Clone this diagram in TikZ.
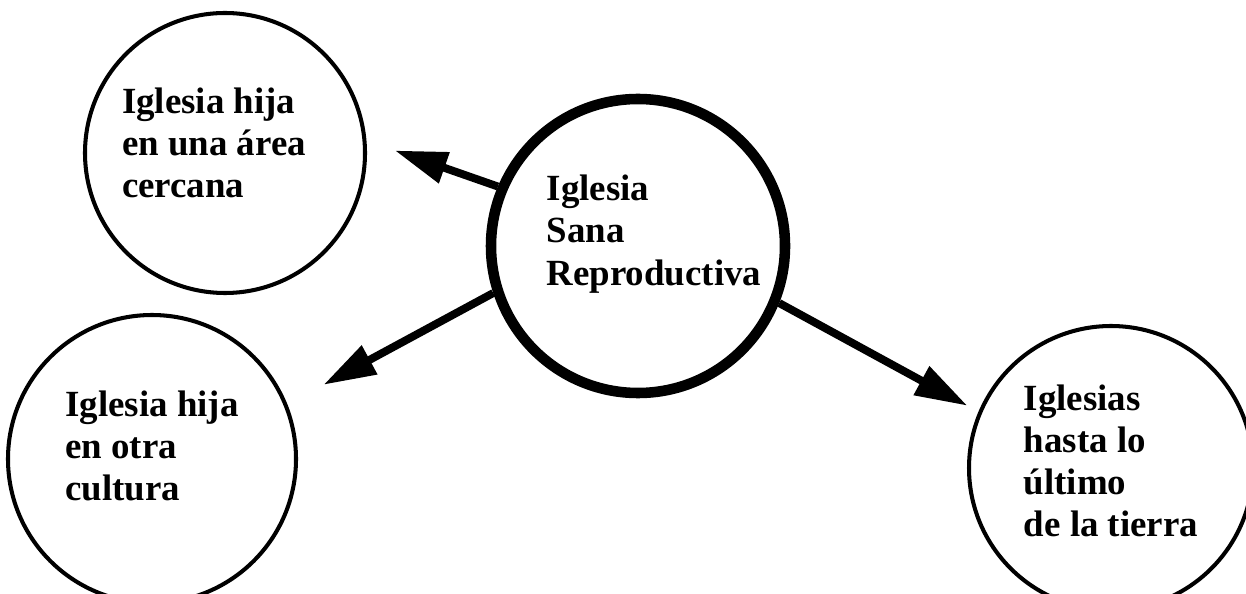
\documentclass[tikz,border=0pt]{standalone}
\usepackage{fontspec}
\setmainfont{Liberation Serif}
\usepackage{tikz}
\usetikzlibrary{arrows.meta, positioning, calc}
\tikzset{
  churchnode/.style={circle, draw=black, line width=2.3pt, minimum size=5.6cm, inner sep=0pt},
  mainnode/.style={churchnode, line width=6pt, minimum size=5.88cm},
  churchtext/.style={font=\fontsize{21}{24}\selectfont\bfseries, align=left, inner sep=0pt},
  sendarrow/.style={-{Triangle[length=1.05cm, width=0.62cm]}, line width=4.5pt, black}
}

\begin{document}
\begin{tikzpicture}
  \useasboundingbox (0,0) rectangle (24.92,11.86);

  \node[mainnode] (repro) at (12.76,6.94) {};
  \node[churchnode] (cercana) at (4.50,8.80) {};
  \node[churchnode, minimum size=5.76cm] (cultura) at (3.04,2.68) {};
  \node[churchnode, minimum size=5.68cm] (tierra) at (22.22,2.50) {};

  \node[churchtext] (reprotext) at ($(repro)+(0.32,0.24)$) {Iglesia\\Sana\\Reproductiva};
  \node[churchtext] (cercanatext) at ($(cercana)+(-0.22,0.2)$) {Iglesia hija\\en una área\\cercana};
  \node[churchtext] (culturatext) at ($(cultura)+(0,0.26)$) {Iglesia hija\\en otra\\cultura};
  \node[churchtext] (tierratext) at ($(tierra)+(0,0.14)$) {Iglesias\\hasta lo\\último\\de la tierra};

  \draw[sendarrow, shorten >=0.6cm] (repro.157) -- (cercana.5);
  \draw[sendarrow, shorten >=0.82cm] (repro.198) -- (cultura.22);
  \draw[sendarrow, shorten >=0.25cm] (repro.338) -- (tierra.157);
\end{tikzpicture}
\end{document}
